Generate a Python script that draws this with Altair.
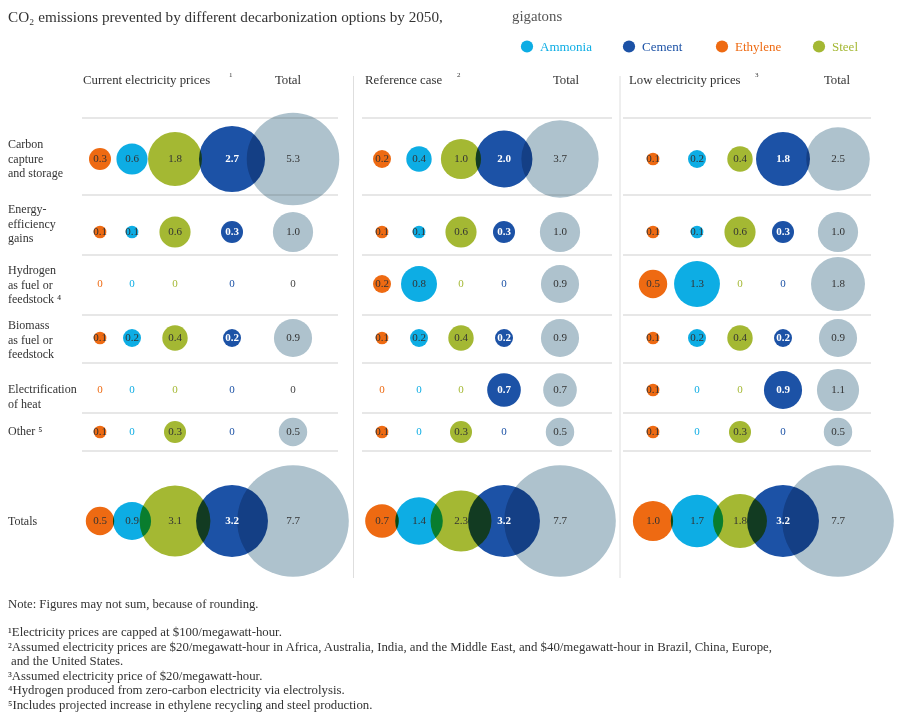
import json
import altair as alt
import pandas as pd

# ---------------- data ----------------
SCENARIOS = ["Current electricity prices", "Reference case", "Low electricity prices"]
SCEN_SUP = ["1", "2", "3"]
ROWS = ["Carbon capture and storage", "Energy-efficiency gains", "Hydrogen as fuel or feedstock",
        "Biomass as fuel or feedstock", "Electrification of heat", "Other", "Totals"]
ROW_LABELS = ["Carbon\ncapture\nand storage", "Energy-\nefficiency\ngains", "Hydrogen\nas fuel or\nfeedstock \u2074",
              "Biomass\nas fuel or\nfeedstock", "Electrification\nof heat", "Other \u2075", "Totals"]
CATEGORIES = ["Ethylene", "Ammonia", "Steel", "Cement", "Total"]
LEGEND_ORDER = ["Ammonia", "Cement", "Ethylene", "Steel"]

current_ethylene = [0.3, 0.1, 0, 0.1, 0, 0.1, 0.5]
current_ammonia = [0.6, 0.1, 0, 0.2, 0, 0, 0.9]
current_steel = [1.8, 0.6, 0, 0.4, 0, 0.3, 3.1]
current_cement = [2.7, 0.3, 0, 0.2, 0, 0, 3.2]
current_total = [5.3, 1.0, 0, 0.9, 0, 0.5, 7.7]

reference_ethylene = [0.2, 0.1, 0.2, 0.1, 0, 0.1, 0.7]
reference_ammonia = [0.4, 0.1, 0.8, 0.2, 0, 0, 1.4]
reference_steel = [1.0, 0.6, 0, 0.4, 0, 0.3, 2.3]
reference_cement = [2.0, 0.3, 0, 0.2, 0.7, 0, 3.2]
reference_total = [3.7, 1.0, 0.9, 0.9, 0.7, 0.5, 7.7]

low_ethylene = [0.1, 0.1, 0.5, 0.1, 0.1, 0.1, 1.0]
low_ammonia = [0.2, 0.1, 1.3, 0.2, 0, 0, 1.7]
low_steel = [0.4, 0.6, 0, 0.4, 0, 0.3, 1.8]
low_cement = [1.8, 0.3, 0, 0.2, 0.9, 0, 3.2]
low_total = [2.5, 1.0, 1.8, 0.9, 1.1, 0.5, 7.7]

TITLE = "CO\u2082 emissions prevented by different decarbonization options by 2050,"
UNIT = "gigatons"
NOTE = "Note: Figures may not sum, because of rounding."
FOOTNOTES = [
    "\u00b9Electricity prices are capped at $100/megawatt-hour.",
    "\u00b2Assumed electricity prices are $20/megawatt-hour in Africa, Australia, India, and the Middle East, and $40/megawatt-hour in Brazil, China, Europe,",
    "and the United States.",
    "\u00b3Assumed electricity price of $20/megawatt-hour.",
    "\u2074Hydrogen produced from zero-carbon electricity via electrolysis.",
    "\u2075Includes projected increase in ethylene recycling and steel production.",
]

SERIES = {
    SCENARIOS[0]: [current_ethylene, current_ammonia, current_steel, current_cement, current_total],
    SCENARIOS[1]: [reference_ethylene, reference_ammonia, reference_steel, reference_cement, reference_total],
    SCENARIOS[2]: [low_ethylene, low_ammonia, low_steel, low_cement, low_total],
}

records = []
for s in SCENARIOS:
    for c, vals in zip(CATEGORIES, SERIES[s]):
        for r, v in zip(ROWS, vals):
            records.append({"scenario": s, "category": c, "row": r, "value": v,
                            "label": "0" if v == 0 else f"{v:.1f}"})
df = pd.DataFrame(records)

# ---------------- layout / style ----------------
TOP = 6                      # top padding of the chart
W, H = 886, 707 - TOP
FONT = "Liberation Serif"
TXT = "#333333"
COLORS = ["#EE6A12", "#0DADE4", "#A4B833", "#1C52A6", "#AEC2CD"]
COLOR_OF = dict(zip(CATEGORIES, COLORS))


def py(y):
    """layout y (relative to page top-8) -> plot-area y"""
    return y - TOP


COL_X = [92, 124, 167, 224, 285,
         374, 411, 453, 496, 552,
         645, 689, 732, 775, 830]
ROW_Y = [py(v) for v in [151, 224, 276, 330, 382, 424, 513]]
ROW_LABEL_DY = [-15, -23, -14, -13, -1, -1, 0]
PANEL_X = [(74, 330), (354, 604), (615, 863)]
SEP_Y = [py(v) for v in [110, 187, 247, 307, 355, 405, 443]]
DIVIDER_X = [345.5, 612]
HEAD_X = [75, 357, 621]
SUP_X = [221, 449, 747]
TOTAL_HEAD_X = [280, 558, 829]
FOOT_X = [0, 0, 3, 0, 0, 0]
FOOT_Y = [py(v) for v in [624, 639, 653, 668, 682, 697]]

XEXPR = (f"{json.dumps(COL_X)}[indexof({json.dumps(SCENARIOS)}, datum.scenario) * 5 + "
         f"indexof({json.dumps(CATEGORIES)}, datum.category)]")
YEXPR = f"{json.dumps(ROW_Y)}[indexof({json.dumps(ROWS)}, datum.row)]"

xscale = alt.Scale(domain=[0, W], range=[0, W], nice=False, zero=False)
yscale = alt.Scale(domain=[0, H], range=[0, H], nice=False, zero=False)
X = alt.X("xpos:Q", scale=xscale, axis=None)
Y = alt.Y("ypos:Q", scale=yscale, axis=None)

layers = []
one = pd.DataFrame({"a": [0]})

# separators
for (x0, x1) in PANEL_X:
    for yv in SEP_Y:
        layers.append(alt.Chart(one).mark_rule(color="#cfcfcf", strokeWidth=1).encode(
            x=alt.value(x0), x2=alt.value(x1), y=alt.value(yv)))
for xv in DIVIDER_X:
    layers.append(alt.Chart(one).mark_rule(color="#dedede", strokeWidth=1).encode(
        x=alt.value(xv), y=alt.value(py(68)), y2=alt.value(py(570))))

base = alt.Chart(df).transform_calculate(xpos=XEXPR, ypos=YEXPR)

# Vega circle: radius = sqrt(size)/2 -> size per gigaton chosen so area ~1270 px^2 per gigaton
circles = base.transform_filter("datum.value > 0").mark_circle(opacity=1, blend="multiply").encode(
    x=X, y=Y,
    size=alt.Size("value:Q", scale=alt.Scale(type="linear", domain=[0, 10], range=[0, 16170]), legend=None),
    color=alt.Color("category:N", scale=alt.Scale(domain=CATEGORIES, range=COLORS), legend=None),
)
layers.append(circles)

zero_lbl = base.transform_filter("datum.value == 0 && datum.category != 'Total'").mark_text(
    font=FONT, fontSize=11, baseline="middle").encode(
    x=X, y=Y, text="label:N",
    color=alt.Color("category:N", scale=alt.Scale(domain=CATEGORIES, range=COLORS), legend=None))
zero_tot = base.transform_filter("datum.value == 0 && datum.category == 'Total'").mark_text(
    font=FONT, fontSize=11, baseline="middle", color="#444444").encode(x=X, y=Y, text="label:N")
val_lbl = base.transform_filter("datum.value > 0 && datum.category != 'Cement'").mark_text(
    font=FONT, fontSize=11, baseline="middle", color=TXT).encode(x=X, y=Y, text="label:N")
cem_lbl = base.transform_filter("datum.value > 0 && datum.category == 'Cement'").mark_text(
    font=FONT, fontSize=11, baseline="middle", color="white", fontWeight="bold").encode(x=X, y=Y, text="label:N")
layers += [zero_lbl, zero_tot, val_lbl, cem_lbl]

# row labels
for r, lab, dy in zip(ROWS, ROW_LABELS, ROW_LABEL_DY):
    d = pd.DataFrame({"row": [r], "lab": [lab]})
    layers.append(alt.Chart(d).transform_calculate(ypos=YEXPR).mark_text(
        font=FONT, fontSize=12, align="left", baseline="middle", color=TXT,
        lineBreak="\n", lineHeight=14.5, dy=dy).encode(x=alt.value(0), y=Y, text="lab:N"))

# panel headers
for s, sup, hx, sx, tx in zip(SCENARIOS, SCEN_SUP, HEAD_X, SUP_X, TOTAL_HEAD_X):
    layers.append(alt.Chart(one).mark_text(text=s, font=FONT, fontSize=12.8, align="left",
                                           baseline="middle", color=TXT).encode(
        x=alt.value(hx), y=alt.value(py(72))))
    layers.append(alt.Chart(one).mark_text(text=sup, font=FONT, fontSize=7, align="left",
                                           baseline="middle", color=TXT).encode(
        x=alt.value(sx), y=alt.value(py(67))))
    layers.append(alt.Chart(one).mark_text(text="Total", font=FONT, fontSize=12.8, align="center",
                                           baseline="middle", color=TXT).encode(
        x=alt.value(tx), y=alt.value(py(72))))

# title
layers.append(alt.Chart(one).mark_text(text=TITLE, font=FONT, fontSize=15.2, align="left",
                                       baseline="middle", color=TXT).encode(
    x=alt.value(0), y=alt.value(py(8.5))))
layers.append(alt.Chart(one).mark_text(text=UNIT, font=FONT, fontSize=14.8, align="left",
                                       baseline="middle", color="#555555").encode(
    x=alt.value(504), y=alt.value(py(8.5))))

# legend
LEG_CX = [519, 621, 714, 811]
for cat, cx in zip(LEGEND_ORDER, LEG_CX):
    layers.append(alt.Chart(one).mark_circle(size=150, opacity=1, color=COLOR_OF[cat]).encode(
        x=alt.value(cx), y=alt.value(py(38.5))))
    layers.append(alt.Chart(one).mark_text(text=cat, font=FONT, fontSize=13, align="left",
                                           baseline="middle", color=COLOR_OF[cat]).encode(
        x=alt.value(cx + 13), y=alt.value(py(38.5))))

# notes
layers.append(alt.Chart(one).mark_text(text=NOTE, font=FONT, fontSize=12.7, align="left",
                                       baseline="middle", color=TXT).encode(
    x=alt.value(0), y=alt.value(py(596))))
for t, fx, fy in zip(FOOTNOTES, FOOT_X, FOOT_Y):
    layers.append(alt.Chart(one).mark_text(text=t, font=FONT, fontSize=12.8, align="left",
                                           baseline="middle", color=TXT).encode(
        x=alt.value(fx), y=alt.value(fy)))

chart = alt.layer(*layers).properties(
    width=W, height=H, autosize=alt.AutoSizeParams(type="none"),
    padding={"top": TOP, "left": 0, "right": 0, "bottom": 0}
).configure_view(stroke=None)

chart.save("out.html", embed_options={"renderer": "svg", "actions": False})
